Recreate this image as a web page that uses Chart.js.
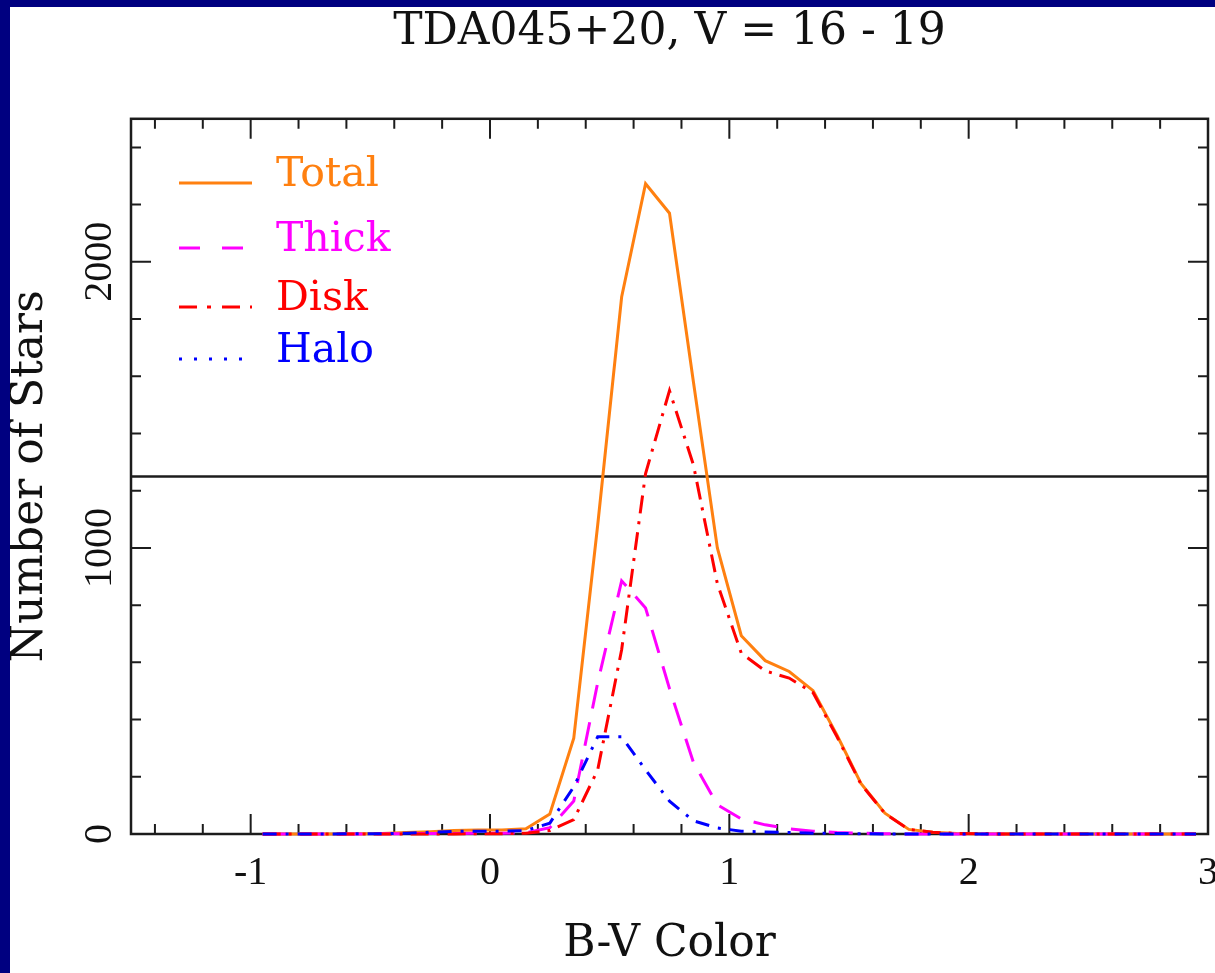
<!DOCTYPE html>
<html lang="en">
<head>
    <meta charset="UTF-8">
    <title>TDA045+20, V = 16 - 19</title>
    <script src="https://cdn.jsdelivr.net/npm/chart.js"></script>
    <style>
        body { margin: 0; background: #000080; width: 1215px; height: 973px; overflow: hidden; }
        #wrap { position: absolute; left: 10px; top: 7px; width: 1205px; height: 966px; background: #fff; }
        canvas { display: block; }
    </style>
</head>
<body>
    <div id="wrap"><canvas id="colorChart" width="1205" height="966"></canvas></div>

    <script>
        // B-V bin centres and star counts for each population
        const bvColor = [-0.95, -0.85, -0.75, -0.65, -0.55, -0.45, -0.35, -0.25, -0.15, -0.05,
                          0.05,  0.15,  0.25,  0.35,  0.45,  0.55,  0.65,  0.75,  0.85,  0.95,
                          1.05,  1.15,  1.25,  1.35,  1.45,  1.55,  1.65,  1.75,  1.85,  1.95,
                          2.05,  2.15,  2.25,  2.35,  2.45,  2.55,  2.65,  2.75,  2.85,  2.95];
        const totalCounts = [0, 0, 0, 0, 1, 2, 5, 8, 12, 14,
                             14, 18, 70, 335, 1080, 1877, 2273, 2170, 1580, 1000,
                             693, 606, 568, 501, 345, 177, 73, 16, 6, 2,
                             1, 0, 0, 0, 0, 0, 0, 0, 0, 0];
        const thickCounts = [0, 0, 0, 0, 0, 1, 1, 2, 2, 3,
                             3, 4, 22, 115, 529, 885, 790, 508, 250, 102,
                             53, 32, 18, 10, 5, 3, 1, 0, 0, 0,
                             0, 0, 0, 0, 0, 0, 0, 0, 0, 0];
        const diskCounts = [0, 0, 0, 0, 0, 0, 0, 0, 0, 1,
                            1, 3, 12, 50, 224, 644, 1260, 1550, 1290, 875,
                            632, 570, 545, 494, 340, 174, 72, 16, 6, 2,
                            1, 0, 0, 0, 0, 0, 0, 0, 0, 0];
        const haloCounts = [0, 0, 0, 0, 1, 1, 3, 6, 9, 10,
                            10, 12, 38, 165, 340, 340, 224, 115, 46, 21,
                            10, 7, 5, 3, 2, 1, 0, 0, 0, 0,
                            0, 0, 0, 0, 0, 0, 0, 0, 0, 0];
        const seriesNames = ['Total', 'Thick', 'Disk', 'Halo'];
        const refLevel = 1250;

        // axis ranges and tick spacing
        const xMin = -1.5, xMax = 3, xMajorStep = 1, xMinorStep = 0.2;
        const yMin = 0, yMax = 2500, yMajorStep = 1000, yMinorStep = 200;

        const colors = { Total: '#ff8010', Thick: '#ff00ff', Disk: '#ff0000', Halo: '#0000ff' };
        const serif = "'Liberation Serif', serif";
        const dejavu = "'DejaVu Serif', serif";

        function points(values) {
            return bvColor.map((b, i) => ({ x: b, y: values[i] }));
        }

        function stepTicks(from, to, step) {
            let out = [];
            for (let i = Math.ceil(from / step - 1e-9); i * step <= to + 1e-9; i++) {
                out.push({ value: +(i * step).toFixed(4) });
            }
            return out;
        }

        function isMajor(v, step) {
            return Math.abs(v / step - Math.round(v / step)) < 1e-6;
        }

        // frame with inward ticks on all four sides
        const frameTicks = {
            id: 'frameTicks',
            beforeDatasetsDraw(chart) {
                const { ctx, chartArea: a, scales } = chart;
                ctx.save();
                ctx.strokeStyle = '#1c1c1c';
                ctx.lineWidth = 2.5;
                ctx.strokeRect(a.left, a.top, a.right - a.left, a.bottom - a.top);
                ctx.lineWidth = 2;
                ctx.beginPath();
                scales.x.ticks.forEach(t => {
                    const px = scales.x.getPixelForValue(t.value);
                    const len = isMajor(t.value, xMajorStep) ? 20 : 10;
                    ctx.moveTo(px, a.bottom); ctx.lineTo(px, a.bottom - len);
                    ctx.moveTo(px, a.top); ctx.lineTo(px, a.top + len);
                });
                scales.y.ticks.forEach(t => {
                    const py = scales.y.getPixelForValue(t.value);
                    const len = isMajor(t.value, yMajorStep) ? 20 : 10;
                    ctx.moveTo(a.left, py); ctx.lineTo(a.left + len, py);
                    ctx.moveTo(a.right, py); ctx.lineTo(a.right - len, py);
                });
                ctx.stroke();
                ctx.restore();
            }
        };

        // legend drawn inside the plot, upper left
        const legendSample = { Total: [], Thick: [21, 22], Disk: [18, 10, 4, 11], Halo: [3, 12] };
        const legendBaselines = [179, 244, 303, 355];
        const insetLegend = {
            id: 'insetLegend',
            afterDatasetsDraw(chart) {
                const ctx = chart.ctx;
                ctx.save();
                ctx.font = '41px ' + dejavu;
                ctx.textBaseline = 'alphabetic';
                ctx.textAlign = 'left';
                ctx.lineWidth = 3;
                seriesNames.forEach((name, i) => {
                    const y = legendBaselines[i];
                    ctx.strokeStyle = colors[name];
                    ctx.setLineDash(legendSample[name]);
                    ctx.beginPath();
                    ctx.moveTo(169, y - 3);
                    ctx.lineTo(242, y - 3);
                    ctx.stroke();
                    ctx.fillStyle = colors[name];
                    ctx.fillText(name, 266, y);
                });
                ctx.restore();
            }
        };

        const lineStyle = { pointRadius: 0, borderWidth: 3, tension: 0, fill: false, clip: false };

        new Chart(document.getElementById('colorChart'), {
            type: 'line',
            data: {
                datasets: [
                    { label: 'Halo', data: points(haloCounts), borderColor: colors.Halo, borderDash: [14, 9, 3, 9], ...lineStyle },
                    { label: 'Disk', data: points(diskCounts), borderColor: colors.Disk, borderDash: [18, 8, 3, 8], ...lineStyle },
                    { label: 'Thick', data: points(thickCounts), borderColor: colors.Thick, borderDash: [24, 14], ...lineStyle },
                    { label: 'Total', data: points(totalCounts), borderColor: colors.Total, ...lineStyle },
                    { label: 'level', data: [{ x: xMin, y: refLevel }, { x: xMax, y: refLevel }], borderColor: '#1c1c1c', ...lineStyle, borderWidth: 2.5 }
                ]
            },
            options: {
                responsive: false,
                animation: false,
                layout: { padding: { top: 0, right: 7, bottom: 0, left: 0 } },
                plugins: {
                    legend: { display: false },
                    tooltip: { enabled: false },
                    title: {
                        display: true,
                        fullSize: false,
                        text: 'TDA045+20, V = 16 - 19',
                        color: '#111',
                        font: { family: dejavu, size: 44, weight: 'normal' },
                        padding: { top: -1, bottom: 60 }
                    }
                },
                scales: {
                    x: {
                        type: 'linear',
                        min: xMin,
                        max: xMax,
                        grid: { display: false, drawTicks: false, tickLength: 0 },
                        border: { display: false },
                        afterBuildTicks: s => { s.ticks = stepTicks(xMin, xMax, xMinorStep); },
                        afterFit: s => { s.height = 139; s.paddingLeft = 0; s.paddingRight = 0; },
                        ticks: {
                            autoSkip: false,
                            maxRotation: 0,
                            padding: 15,
                            color: '#111',
                            font: { family: serif, size: 40 },
                            callback: v => isMajor(v, xMajorStep) ? String(Math.round(v)) : ''
                        },
                        title: {
                            display: true,
                            text: 'B-V Color',
                            color: '#111',
                            font: { family: dejavu, size: 44 },
                            padding: { top: 0, bottom: 2 }
                        }
                    },
                    y: {
                        min: yMin,
                        max: yMax,
                        grid: { display: false, drawTicks: false, tickLength: 0 },
                        border: { display: false },
                        afterBuildTicks: s => { s.ticks = stepTicks(yMin, yMax, yMinorStep); },
                        afterFit: s => { s.width = 121; s.paddingTop = 0; s.paddingBottom = 0; },
                        ticks: {
                            autoSkip: false,
                            minRotation: 90,
                            maxRotation: 90,
                            crossAlign: 'center',
                            padding: -9,
                            color: '#111',
                            font: { family: serif, size: 40 },
                            callback: v => isMajor(v, yMajorStep) ? String(v) : ''
                        },
                        title: {
                            display: true,
                            text: 'Number of Stars',
                            color: '#111',
                            font: { family: dejavu, size: 44 },
                            padding: { top: -6, bottom: 0 }
                        }
                    }
                }
            },
            plugins: [frameTicks, insetLegend]
        });
    </script>
</body>
</html>
